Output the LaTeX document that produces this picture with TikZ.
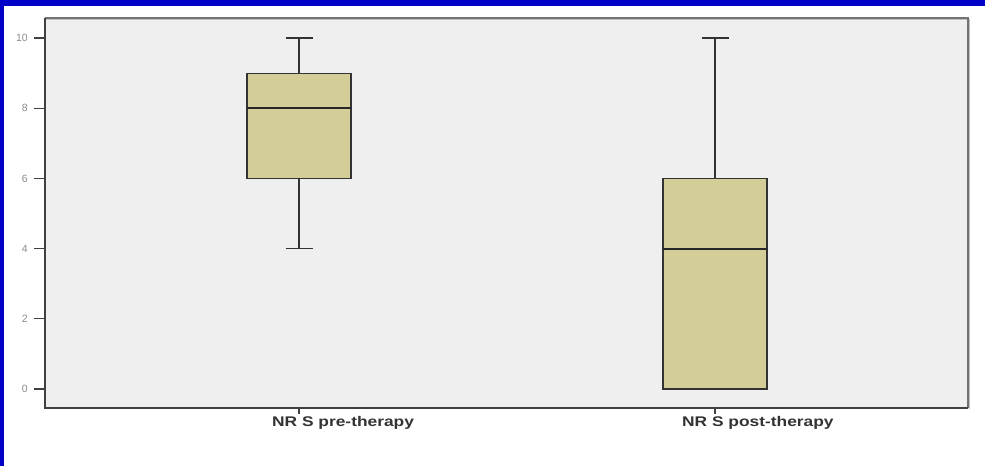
\documentclass[tikz,border=0pt]{standalone}
\usepackage{fontspec}
\setmainfont{Liberation Sans}
\usepackage{graphicx}
\definecolor{frameblue}{RGB}{0,0,200}
\definecolor{plotbg}{RGB}{239,239,239}
\definecolor{boxtan}{RGB}{211,206,152}
\definecolor{inkgray}{RGB}{51,51,51}
\tikzset{
  whisk/.style={draw=inkgray,line width=1.2pt},
  boxbody/.style={draw=inkgray,fill=boxtan,line width=1.2pt},
  medline/.style={draw=black!85,line width=2pt},
  axisline/.style={draw=black!75,line width=1.6pt},
  ylab/.style={anchor=east,inner sep=0pt,text=black!45,font=\fontsize{10.5}{11}\selectfont},
  xlab/.style={anchor=west,inner sep=0pt,text=inkgray,font=\fontsize{14}{16}\selectfont\bfseries}
}
\begin{document}
\begin{tikzpicture}[x=1pt,y=-1pt]
\useasboundingbox (0,0) rectangle (985,466);
\fill[white] (0,0) rectangle (985,466);
% blue frame
\fill[frameblue] (0,0) rectangle (985,6);
\fill[frameblue] (0,0) rectangle (4,466);
% plot area
\fill[plotbg] (45,18) rectangle (968,408);
\draw[black!25,line width=1pt] (46,19.5) -- (969.5,19.5) -- (969.5,409);
\draw[black!55,line width=1.4pt] (45,18) -- (968,18) -- (968,408);
\draw[axisline] (45,18) -- (45,408) -- (968,408);
\begin{scope}[yshift=-389pt,y=35.1pt]
\foreach \v in {0,2,...,10} {
  \draw[axisline,line width=1.3pt] (34,\v) -- (45,\v);
  \node[ylab] (ytick\v) at (28,\v) {\v};
}
% boxes: centre / min / q1 / median / q3 / max
\foreach \cx/\lo/\qa/\md/\qb/\hi in {299/4/6/8/9/10, 715/0/0/4/6/10} {
  \draw[whisk] (\cx,\lo) -- (\cx,\qa);
  \draw[whisk] (\cx,\qb) -- (\cx,\hi);
  \draw[whisk] (\cx-13.5,\lo) -- (\cx+13.5,\lo);
  \draw[whisk] (\cx-13.5,\hi) -- (\cx+13.5,\hi);
  \draw[boxbody] (\cx-52,\qa) rectangle (\cx+52,\qb);
  \draw[medline] (\cx-52,\md) -- (\cx+52,\md);
}
\end{scope}
\draw[axisline,line width=1.2pt] (299,408) -- (299,414);
\draw[axisline,line width=1.2pt] (715,408) -- (715,414);
\node[xlab] (prelab) at (272,423) {\scalebox{1.24}[1]{NR S pre-therapy}};
\node[xlab] (postlab) at (682,423) {\scalebox{1.24}[1]{NR S post-therapy}};
\end{tikzpicture}
\end{document}
